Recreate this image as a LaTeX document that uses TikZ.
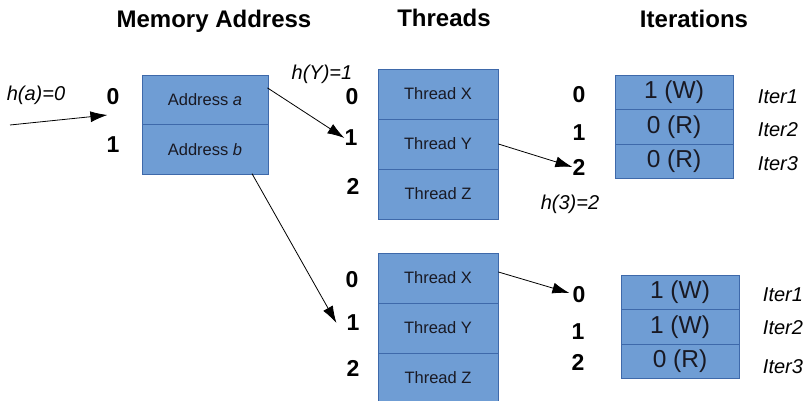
\documentclass[tikz,border=0pt]{standalone}
\usepackage{fontspec}
\setmainfont{Liberation Sans}
\usetikzlibrary{arrows.meta,calc}
\definecolor{cellfill}{RGB}{111,157,212}
\definecolor{celledge}{RGB}{62,105,170}
\definecolor{celltext}{RGB}{25,25,35}

\begin{document}
\begin{tikzpicture}[x=1pt,y=-1pt,
  cell/.style={draw=celledge, line width=0.8pt, fill=cellfill, inner sep=0pt, text=celltext},
  memcell/.style={cell, minimum width=126pt, minimum height=49.5pt, font=\fontsize{16.5}{19}\selectfont},
  thrcell/.style={cell, minimum width=120pt, minimum height=50pt, font=\fontsize{16.5}{19}\selectfont},
  itcell/.style={cell, minimum width=118pt, minimum height=34.5pt, font=\fontsize{24.5}{28}\selectfont},
  head/.style={font=\fontsize{24}{28}\selectfont\bfseries, anchor=base, inner sep=0pt},
  idx/.style={font=\fontsize{23}{26}\selectfont\bfseries, inner sep=0pt},
  tag/.style={font=\fontsize{20}{24}\selectfont\itshape, inner sep=0pt},
  arr/.style={line width=0.8pt, -{Latex[length=17pt,width=11pt]}}
]
\useasboundingbox (0,0) rectangle (806,401);

% column headings
\node[head] (hmem) at (214,28) {Memory Address};
\node[head] (hthr) at (444,27) {Threads};
\node[head] (hit)  at (694,28) {Iterations};

% memory table
\node[memcell] (ma) at (205,100)   {Address \textit{a}};
\node[memcell] (mb) at (205,149.5) {Address \textit{b}};
\node[idx] (ml0) at (113,97)  {0};
\node[idx] (ml1) at (113,145) {1};
\node[tag] (ha) at (36,95) {h(a)=0};
\coordinate (hain) at (10,125);

% first thread table
\node[thrcell] (tX) at (438,94)  {Thread X};
\node[thrcell] (tY) at (438,144) {Thread Y};
\node[thrcell] (tZ) at (438,194) {Thread Z};
\node[idx] (tl0) at (352,97)  {0};
\node[idx] (tl1) at (351,138) {1};
\node[idx] (tl2) at (353,186) {2};
\node[tag] (hY) at (322,74) {h(Y)=1};

% second thread table
\node[thrcell] (bX) at (438,278) {Thread X};
\node[thrcell] (bY) at (438,328) {Thread Y};
\node[thrcell] (bZ) at (438,378) {Thread Z};
\node[idx] (bl0) at (352,280) {0};
\node[idx] (bl1) at (353,323) {1};
\node[idx] (bl2) at (353,368) {2};

% first iteration table
\node[itcell] (i1) at (674,92.25)  {1 (W)};
\node[itcell] (i2) at (674,126.75) {0 (R)};
\node[itcell] (i3) at (674,161.25) {0 (R)};
\node[idx] (iT0) at (579,95)  {0};
\node[idx] (iT1) at (579,133) {1};
\node[idx] (iT2) at (579,167) {2};
\node[tag] (it1) at (778,97)  {Iter1};
\node[tag] (it2) at (778,130) {Iter2};
\node[tag] (it3) at (778,164) {Iter3};
\node[tag] (h3) at (570,204) {h(3)=2};

% second iteration table
\node[itcell] (j1) at (680,292.25) {1 (W)};
\node[itcell] (j2) at (680,326.75) {1 (W)};
\node[itcell] (j3) at (680,361.25) {0 (R)};
\node[idx] (bi0) at (579,295) {0};
\node[idx] (bi1) at (578,332) {1};
\node[idx] (bi2) at (578,362) {2};
\node[tag] (jt1) at (783,295) {Iter1};
\node[tag] (jt2) at (783,328) {Iter2};
\node[tag] (jt3) at (783,367) {Iter3};

% hash mappings
\draw[arr] (hain) -- ($(ml0.west)+(1,18)$);
\draw[arr] ($(ma.north east)+(-1,13)$) -- (tl1.west);
\draw[arr] (tY.east) -- (iT2.west);
\draw[arr] ($(mb.south)+(47,-1)$) -- ($(bl1.west)+(-10,0)$);
\draw[arr] ($(bX.east)+(0,-6)$) -- ($(bi0.west)+(-3,-2)$);
\end{tikzpicture}
\end{document}
